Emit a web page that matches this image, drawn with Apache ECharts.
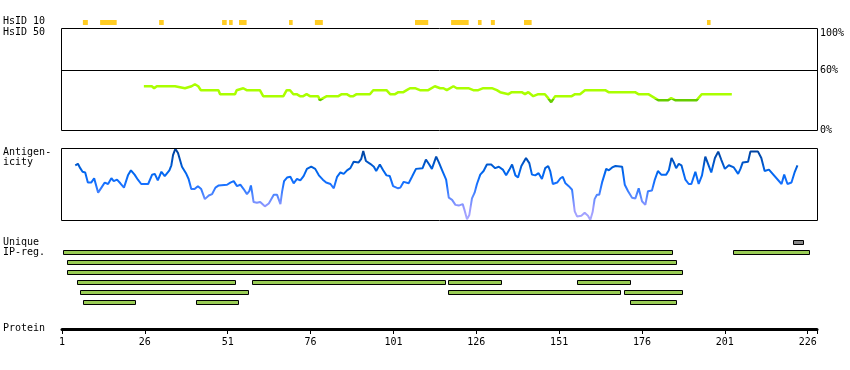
<!DOCTYPE html>
<html><head><meta charset="utf-8">
<script src="https://cdn.jsdelivr.net/npm/echarts@6/dist/echarts.min.js"></script>
<style>html,body{margin:0;padding:0;background:#fff}#c{width:850px;height:370px}</style>
</head><body><div id="c"></div>
<script>
// ---- data (residue positions) ----
const residueMin = 1;
const residueMax = 228.8;
const tickLabels = [1, 26, 51, 76, 101, 126, 151, 176, 201, 226];
const identityLabels = [0, 60, 100];
const identityThreshold = 60;

// HsID 10 regions [start, end]
const hsid10Regions = [[7.3,8.8],[12.5,17.5],[30.3,31.7],[49.3,50.7],[51.4,52.5],[54.4,56.7],[69.5,70.6],[77.3,79.7],[107.5,111.5],[118.4,123.7],[126.5,127.6],[130.4,131.6],[140.4,142.7],[195.6,196.7]];

// HsID 50 similarity [residue, percent]
const similarity = [[25.7,44],[28.1,44],[28.8,42],[29.6,44],[32.1,44],[32.6,46],[33.6,44],[35.1,44],[35.6,42],[38.1,42],[38.6,44],[40.1,44],[41.1,46],[42.1,44],[42.9,40],[48.2,40],[48.7,36],[53.2,36],[53.7,40],[55.7,42],[56.7,40],[60.7,40],[61.7,34],[67.8,34],[68.8,40],[69.8,40],[70.8,36],[71.8,36],[72.8,34],[73.8,34],[74.8,36],[75.8,34],[78.3,34],[78.8,30],[79.8,32],[80.9,34],[84.4,34],[85.4,36],[86.9,36],[87.9,34],[88.9,34],[89.9,36],[93.9,36],[94.9,40],[98.9,40],[100,36],[101.5,36],[102.5,38],[104,38],[105,40],[106,42],[107.5,42],[109,40],[111.5,40],[113.5,44],[115.1,42],[116.1,42],[117.1,40],[119.1,44],[120.1,42],[123.6,42],[125.1,40],[126.6,40],[128.1,42],[130.7,42],[132.2,40],[133.2,38],[133.7,40],[135.7,36],[136.7,38],[139.7,38],[140.7,36],[141.7,38],[143.2,34],[144.7,36],[146.7,36],[147.7,32],[148.6,28],[149.8,34],[154.8,34],[155.8,36],[157.3,36],[158.8,40],[164.9,40],[165.9,38],[173.9,38],[174.9,36],[177.9,36],[179.9,32],[180.9,30],[183.9,30],[184.8,32],[186,30],[192.5,30],[194,36],[203.1,36]];

// Antigenicity [residue, score 0-100]
const antigenicity = [[5.0,76],[5.8,78],[6.5,72],[7.2,67],[8.0,66],[8.8,52],[9.8,52],[10.7,58],[11.9,38],[12.9,45],[13.9,52],[14.9,50],[15.9,58],[16.6,54],[17.6,56],[18.6,51],[19.7,45],[20.9,62],[21.8,69],[22.9,63],[23.9,56],[24.9,50],[27.0,50],[28.2,63],[29.0,64],[29.9,55],[31.0,67],[32.0,61],[33.4,69],[34.0,76],[34.5,90],[35.2,99],[36.0,93],[37.2,74],[38.4,65],[39.2,57],[40.0,43],[41.0,43],[42.0,47],[43.0,43],[44.1,29],[45.3,34],[46.3,36],[47.3,45],[48.3,48],[50.8,49],[51.8,52],[52.8,54],[53.8,47],[54.8,49],[55.8,43],[56.8,36],[57.5,40],[58.0,48],[58.3,40],[58.8,25],[59.8,24],[60.8,25],[62.2,19],[63.4,23],[64.9,35],[65.9,35],[66.9,22],[67.4,39],[68.0,54],[68.9,59],[69.9,60],[70.9,51],[71.9,57],[72.9,55],[73.9,61],[74.9,71],[76.2,74],[77.4,71],[78.5,62],[79.7,56],[80.7,52],[82.0,50],[83.0,44],[84.0,60],[85.0,66],[86.0,64],[87.0,69],[88.0,72],[89.0,81],[90.5,80],[91.3,85],[91.9,96],[92.7,82],[94.0,78],[95.1,74],[95.8,68],[96.9,77],[97.9,69],[98.9,62],[99.9,61],[100.9,47],[102.4,44],[103.1,45],[104.1,53],[105.6,51],[106.6,60],[107.8,71],[109.8,72],[110.8,84],[111.8,77],[112.6,71],[113.9,88],[114.7,80],[115.7,69],[116.9,56],[117.7,31],[118.7,28],[119.7,21],[120.7,20],[121.9,22],[122.5,13],[123.2,1],[123.9,7],[124.7,30],[125.5,38],[126.2,50],[127.2,63],[128.2,68],[129.2,77],[130.5,77],[131.7,72],[132.8,74],[134.0,70],[135.0,62],[136.0,70],[136.8,77],[137.8,62],[138.6,59],[139.6,75],[141.0,86],[142.0,79],[142.8,63],[143.8,62],[144.8,65],[145.8,57],[146.8,72],[147.7,75],[148.3,68],[149.1,50],[150.4,52],[151.4,58],[152.1,60],[152.9,51],[153.9,47],[154.9,42],[155.7,12],[156.4,5],[157.7,6],[158.7,10],[159.7,6],[160.4,0],[161.1,11],[161.7,29],[162.4,35],[163.1,35],[164.0,53],[165.2,71],[166.0,69],[167.0,73],[168.0,75],[170.0,74],[170.8,49],[171.8,40],[173.0,31],[174.0,30],[175.0,44],[176.0,26],[177.0,21],[177.8,40],[179.0,41],[179.8,55],[180.8,68],[181.8,63],[183.3,63],[184.1,69],[184.9,86],[185.6,80],[186.3,72],[187.1,78],[187.9,76],[189.1,56],[190.1,50],[190.9,50],[192.1,67],[193.1,50],[194.1,62],[195.1,88],[196.1,76],[196.9,66],[198.0,86],[199.0,95],[199.9,84],[201.0,71],[202.2,76],[203.7,73],[205.0,64],[205.7,71],[206.4,80],[208.0,81],[208.7,95],[211.0,95],[212.0,86],[213.0,68],[214.3,70],[218.1,50],[218.9,63],[219.9,50],[221.1,52],[222.1,67],[222.9,76]];

// Unique IP regions [start, end, row]
const ipRegions = [[1.4,185.4,1],[203.6,226.6,1],[2.6,186.7,2],[2.6,188.5,3],[5.6,53.6,4],[58.4,116.8,4],[117.6,133.7,4],[156.5,172.6,4],[6.5,57.5,5],[117.6,169.6,5],[170.7,188.5,5],[7.4,23.4,6],[41.5,54.5,6],[172.5,186.7,6]];
const otherRegions = [[221.7,224.8,0]];

// ---- chart ----
const FONT = 'DejaVu Sans Mono';
const GL = 62, GW = 755;
const grids = [
  {left: GL, width: GW, top: 20, height: 5},     // HsID 10 strip
  {left: GL, width: GW, top: 28, height: 102},   // similarity
  {left: GL, width: GW, top: 148, height: 72},   // antigenicity
  {left: GL, width: GW, top: 237, height: 70},   // IP regions
  {left: GL, width: GW, top: 309, height: 20}    // protein axis
];
const xAxes = grids.map((g, i) => ({
  type: 'value', gridIndex: i, min: residueMin, max: residueMax,
  show: i === 4,
  axisLine: {show: i === 4, lineStyle: {color: '#000', width: 3}},
  axisTick: {show: i === 4, length: 5, lineStyle: {color: '#000', width: 1},
             customValues: tickLabels.concat([residueMax])},
  axisLabel: {show: i === 4, customValues: tickLabels, margin: 8,
              fontFamily: FONT, fontSize: 10, color: '#000'},
  splitLine: {show: false}
}));
const yAxes = [
  {type: 'value', gridIndex: 0, min: 0, max: 1, show: false},
  {type: 'value', gridIndex: 1, min: 0, max: 102.5, position: 'right',
   axisLine: {show: false}, axisTick: {show: false}, splitLine: {show: false},
   axisLabel: {customValues: identityLabels, margin: 3,
               formatter: v => v === 100 ? '{t|' + v + '%}' : v + '%',
               rich: {t: {padding: [6, 0, 0, 0], fontFamily: FONT, fontSize: 10, color: '#000'}},
               fontFamily: FONT, fontSize: 10, color: '#000'}},
  {type: 'value', gridIndex: 2, min: 0, max: 100, show: false},
  {type: 'value', gridIndex: 3, min: 0, max: 7, inverse: true, show: false},
  {type: 'value', gridIndex: 4, min: 0, max: 1, show: false}
];

function stripRender(params, api) {
  const s = api.coord([api.value(0), 0]);
  const e = api.coord([api.value(1), 0]);
  const cs = params.coordSys;
  return {type: 'rect', shape: {x: s[0], y: cs.y, width: e[0] - s[0], height: cs.height},
          style: {fill: '#ffcc22'}};
}
function barRender(fill) {
  return function (params, api) {
    const row = api.value(2) + 0.5;
    const s = api.coord([api.value(0), row]);
    const e = api.coord([api.value(1), row]);
    const x0 = Math.round(s[0]) + 0.5, x1 = Math.round(e[0]) - 0.5;
    const y0 = Math.floor(s[1] - 2) + 0.5;
    return {type: 'rect', shape: {x: x0, y: y0, width: x1 - x0, height: 4},
            style: {fill: fill, stroke: '#000', lineWidth: 1}};
  };
}

const txt = (t, y) => ({type: 'text', left: 3, top: y - 6,
  style: {text: t, fill: '#000', font: '10px ' + FONT}});

const option = {
  animation: false,
  grid: grids,
  xAxis: xAxes,
  yAxis: yAxes,
  visualMap: [
    {type: 'piecewise', show: false, seriesIndex: 1, dimension: 1,
     pieces: [{gte: 0, lt: 31, color: '#66cc00'}, {gte: 31, lte: 100, color: '#aaff00'}]},
    {type: 'continuous', show: false, seriesIndex: 2, dimension: 1, min: 0, max: 100,
     inRange: {color: ['#aaaaff', '#9999ff', '#5588ff', '#1670ff', '#0066ee', '#0050bb', '#003f99']}}
  ],
  graphic: [
    {type: 'rect', shape: {x: 61.5, y: 28.5, width: 756, height: 102}, style: {fill: 'none', stroke: '#000', lineWidth: 1}, z: 10},
    {type: 'rect', shape: {x: 61.5, y: 148.5, width: 756, height: 72}, style: {fill: 'none', stroke: '#000', lineWidth: 1}, z: 10},
    txt('HsID 10', 22.5), txt('HsID 50', 33), txt('Antigen-', 153), txt('icity', 163.5),
    txt('Unique', 243), txt('IP-reg.', 253.5), txt('Protein', 329.5)
  ],
  series: [
    {type: 'custom', xAxisIndex: 0, yAxisIndex: 0, renderItem: stripRender,
     encode: {x: [0, 1]}, data: hsid10Regions},
    {type: 'line', xAxisIndex: 1, yAxisIndex: 1, data: similarity, showSymbol: false,
     lineStyle: {width: 2.5}, z: 3,
     markLine: {silent: true, symbol: 'none', label: {show: false},
                lineStyle: {color: '#000', width: 1, type: 'solid'},
                data: [{yAxis: identityThreshold}]}},
    {type: 'line', xAxisIndex: 2, yAxisIndex: 2, data: antigenicity, showSymbol: false,
     lineStyle: {width: 2}},
    {type: 'custom', xAxisIndex: 3, yAxisIndex: 3, renderItem: barRender('#99cc55'),
     encode: {x: [0, 1], y: 2}, data: ipRegions},
    {type: 'custom', xAxisIndex: 3, yAxisIndex: 3, renderItem: barRender('#888888'),
     encode: {x: [0, 1], y: 2}, data: otherRegions}
  ]
};
const chart = echarts.init(document.getElementById('c'), null, {renderer: 'canvas'});
chart.setOption(option);
</script></body></html>
